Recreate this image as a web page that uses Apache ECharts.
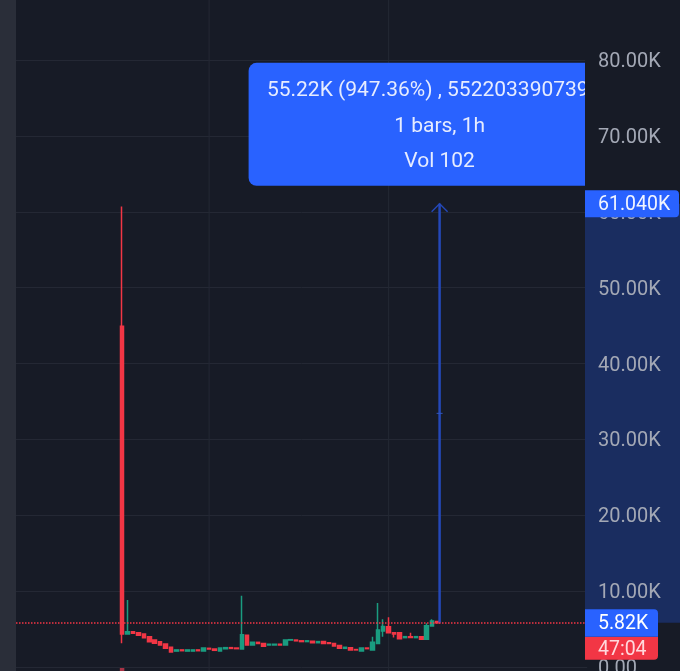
<!DOCTYPE html>
<html>
<head>
<meta charset="utf-8">
<style>
    html, body { margin: 0; padding: 0; background: #171b26; }
    #chart { width: 680px; height: 671px; }
</style>
</head>
<body>
<div id="chart"></div>
<script src="https://cdn.jsdelivr.net/npm/echarts@6/dist/echarts.min.js"></script>
<script>
// candle values
let opens = [44900, 4350, 4650, 4500, 4350, 3980, 3560, 3340, 3030, 2590, 2100, 2250, 2100, 2100, 2250, 2100, 2460, 2370, 2100, 2400, 2550, 2500, 2370, 4200, 2900, 3250, 3100, 2900, 2900, 3000, 2900, 3550, 3550, 3450, 3350, 3400, 3200, 3350, 3200, 3100, 2850, 2460, 2550, 2300, 2100, 2500, 2240, 3100, 4750, 5300, 4500, 4500, 3870, 4000, 3870, 4000, 3650, 5400, 6000];
let closes = [4350, 4650, 4450, 4200, 3870, 3340, 3120, 2900, 2460, 1980, 2250, 2150, 2250, 2250, 2150, 2500, 2370, 2200, 2500, 2550, 2450, 2420, 4260, 2900, 3250, 3100, 2720, 3000, 3000, 2900, 3550, 3600, 3450, 3350, 3450, 3200, 3350, 3100, 3100, 2760, 2460, 2600, 2250, 2250, 2500, 2420, 3250, 4870, 5350, 4520, 4350, 3730, 4000, 3900, 4000, 3650, 5450, 6050, 5820];
let lows = [3120, 4300, 4450, 4200, 3870, 3340, 3120, 2900, 2460, 1980, 2100, 2150, 2100, 2100, 2150, 2100, 2370, 2200, 2100, 2400, 2450, 2420, 2370, 2900, 2900, 3100, 2720, 2900, 2900, 2900, 2900, 3550, 3450, 3350, 3350, 3200, 3200, 3100, 3100, 2760, 2460, 2460, 2250, 2250, 2100, 2420, 2240, 3100, 3990, 4520, 3900, 3730, 3870, 3900, 3870, 3650, 3650, 5400, 5820];
let highs = [60700, 8830, 4650, 4500, 4350, 3980, 3560, 3340, 3030, 2590, 2250, 2250, 2250, 2250, 2250, 2500, 2460, 2370, 2500, 2550, 2550, 2500, 9400, 4200, 3250, 3250, 3100, 3000, 3000, 3000, 3550, 3600, 3550, 3450, 3450, 3400, 3350, 3350, 3200, 3100, 2850, 2600, 2550, 2300, 2500, 2500, 3990, 8450, 6280, 6550, 4500, 4500, 4000, 4500, 4000, 4000, 5750, 6280, 6000];
let volumes = [3];

let leadingEmpty = 19;
let trailingEmpty = 27;
let yTicks = [0, 10000, 20000, 30000, 40000, 50000, 60000, 70000, 80000];
let yTickLabels = ['0.00', '10.00K', '20.00K', '30.00K', '40.00K', '50.00K', '60.00K', '70.00K', '80.00K'];
let gridLineCategories = [35, 68];

let lastPrice = 5820;
let measureTop = 61040;
let measureLines = ['55.22K (947.36%) , 55220339073900', '1 bars, 1h', 'Vol 102'];
let countdown = '47:04';
let lastPriceLabel = '5.82K';
let measureTopLabel = '61.040K';

// build category axis, candles sit in the middle with empty bars round them
let categories = [];
for (let i = 0; i < leadingEmpty + opens.length + trailingEmpty; i++) {
    categories.push('c' + i);
}
let candleData = categories.map(function (c, i) {
    let k = i - leadingEmpty;
    if (k < 0 || k >= opens.length) {
        return '-';
    }
    return [opens[k], closes[k], lows[k], highs[k]];
});
let volumeData = categories.map(function (c, i) {
    let v = volumes[i - leadingEmpty];
    return v === undefined ? '-' : v;
});
let measureCategory = leadingEmpty + opens.length - 1;

const FONT = 'Roboto, sans-serif';
const BLUE = '#2962ff';
const RED = '#f23645';
const GREEN = '#1a9c80';

// vertical grid lines run the whole height of the picture
function renderVertical(params, api) {
    let x = api.coord([api.value(0), 0])[0];
    return {
        type: 'line',
        shape: {x1: x, y1: 0, x2: x, y2: 671},
        style: {stroke: '#242834', lineWidth: 1}
    };
}

// measure arrow plus the blue info box above it
function renderMeasure(params, api) {
    let bottom = api.coord([api.value(0), api.value(1)]);
    let top = api.coord([api.value(0), api.value(2)]);
    let x = top[0] + 2;
    let midY = (top[1] + bottom[1]) / 2;
    let boxW = 382, boxH = 123;
    let boxY = top[1] - 18 - boxH;
    let children = [
        {type: 'line', shape: {x1: x, y1: top[1], x2: x, y2: bottom[1]},
            style: {stroke: '#2448b8', lineWidth: 2.5, fill: null}},
        {type: 'polyline', shape: {points: [[x - 8, top[1] + 8], [x, top[1]], [x + 8, top[1] + 8]]},
            style: {stroke: '#2448b8', lineWidth: 1.4, fill: null}},
        {type: 'line', shape: {x1: x - 3, y1: midY, x2: x + 3, y2: midY},
            style: {stroke: '#2f55c0', lineWidth: 1}},
        {type: 'rect', shape: {x: x - boxW / 2, y: boxY, width: boxW, height: boxH, r: 8},
            style: {fill: BLUE}}
    ];
    measureLines.forEach(function (t, i) {
        children.push({
            type: 'text',
            style: {
                x: x, y: boxY + 28 + i * 35.5, text: t,
                fill: '#e6ecff', font: '21px ' + FONT,
                align: 'center', verticalAlign: 'middle'
            }
        });
    });
    return {type: 'group', children: children};
}

// highlight on the price scale between the two measured prices
function renderBand(params, api) {
    let a = api.coord([0, api.value(0)]);
    let b = api.coord([95, api.value(1)]);
    return {
        type: 'rect',
        shape: {x: a[0], y: b[1], width: b[0] - a[0], height: a[1] - b[1]},
        style: {fill: '#1a2d60'}
    };
}

// price tags on the scale
function renderTags(params, api) {
    let p = api.coord([0, lastPrice]);
    let m = api.coord([0, measureTop]);
    function tag(y, w, h, r, fill, text, color) {
        return [
            {type: 'rect', shape: {x: p[0], y: y, width: w, height: h, r: r}, style: {fill: fill}},
            {type: 'text', style: {
                x: p[0] + 13, y: y + h / 2 + 1.5, text: text, fill: color,
                font: '19.5px ' + FONT, align: 'left', verticalAlign: 'middle'
            }}
        ];
    }
    let children = []
        .concat(tag(m[1] - 13.5, 94, 27, [0, 4, 4, 0], BLUE, measureTopLabel, '#f2f5ff'))
        .concat(tag(p[1] + 14, 73, 23, [0, 0, 4, 0], RED, countdown, '#ffd9dd'))
        .concat(tag(p[1] - 13.5, 73, 27.5, [0, 4, 0, 0], BLUE, lastPriceLabel, '#ffffff'));
    return {type: 'group', children: children};
}

let option = {
    backgroundColor: '#171b26',
    animation: false,
    graphic: [{
        type: 'rect',
        shape: {x: 0, y: 0, width: 16, height: 671},
        style: {fill: '#2a2e39'}
    }],
    grid: [
        {left: 16, top: 60, width: 571.2, height: 607, outerBoundsMode: 'none'},
        {left: 585, top: 60, width: 95, height: 607, show: true, backgroundColor: '#171b26', borderWidth: 0, z: 4, outerBoundsMode: 'none'},
        {left: 16, top: 667, width: 571.2, height: 4, outerBoundsMode: 'none'},
        // labels sit 2px lower than the scale itself
        {left: 585, top: 62, width: 95, height: 607, outerBoundsMode: 'none'}
    ],
    xAxis: [
        {type: 'category', gridIndex: 0, data: categories, show: false},
        {type: 'value', gridIndex: 1, min: 0, max: 95, show: false},
        {type: 'category', gridIndex: 2, data: categories, show: false},
        {type: 'value', gridIndex: 3, min: 0, max: 95, show: false}
    ],
    yAxis: [
        {
            type: 'value', gridIndex: 0, min: 0, max: 80000, interval: 10000,
            axisLine: {show: false},
            axisTick: {show: false},
            axisLabel: {show: false},
            splitLine: {lineStyle: {color: '#242834', width: 1}}
        },
        {type: 'value', gridIndex: 1, min: 0, max: 80000, show: false},
        {type: 'value', gridIndex: 2, min: 0, max: 4, show: false},
        {
            type: 'value', gridIndex: 3, min: 0, max: 80000, interval: 10000, z: 6,
            axisLine: {show: false},
            axisTick: {show: false},
            splitLine: {show: false},
            axisLabel: {
                inside: true,
                margin: 13,
                color: '#a3a8b5',
                fontFamily: FONT,
                fontSize: 20,
                formatter: function (v) {
                    return yTickLabels[yTicks.indexOf(v)];
                }
            }
        }
    ],
    series: [
        {
            type: 'custom',
            xAxisIndex: 0,
            yAxisIndex: 0,
            z: 1,
            clip: false,
            silent: true,
            encode: {x: 0},
            renderItem: renderVertical,
            data: gridLineCategories.map(function (c) { return [c]; })
        },
        {
            type: 'candlestick',
            xAxisIndex: 0,
            yAxisIndex: 0,
            barWidth: 4,
            z: 2,
            clip: false,
            itemStyle: {
                color: GREEN,
                color0: RED,
                borderColor: GREEN,
                borderColor0: RED,
                borderWidth: 1.5
            },
            data: candleData,
            markLine: {
                silent: true,
                symbol: 'none',
                label: {show: false},
                animation: false,
                data: [
                    {yAxis: lastPrice, lineStyle: {color: '#f23645', width: 1.5, type: [1.5, 1.5]}}
                ]
            }
        },
        {
            type: 'bar',
            xAxisIndex: 2,
            yAxisIndex: 2,
            barWidth: 4.5,
            itemStyle: {color: '#a83245'},
            data: volumeData
        },
        {
            type: 'custom',
            xAxisIndex: 0,
            yAxisIndex: 0,
            z: 3,
            clip: false,
            silent: true,
            renderItem: renderMeasure,
            data: [[measureCategory, lastPrice, measureTop]]
        },
        {
            type: 'custom',
            xAxisIndex: 1,
            yAxisIndex: 1,
            z: 5,
            clip: false,
            silent: true,
            encode: {x: -1, y: [0, 1]},
            renderItem: renderBand,
            data: [[lastPrice, measureTop]]
        },
        {
            type: 'custom',
            xAxisIndex: 1,
            yAxisIndex: 1,
            z: 8,
            clip: false,
            silent: true,
            encode: {x: -1, y: 0},
            renderItem: renderTags,
            data: [[lastPrice]]
        }
    ]
};

let myChart = echarts.init(document.getElementById('chart'));
myChart.setOption(option);
</script>
</body>
</html>
